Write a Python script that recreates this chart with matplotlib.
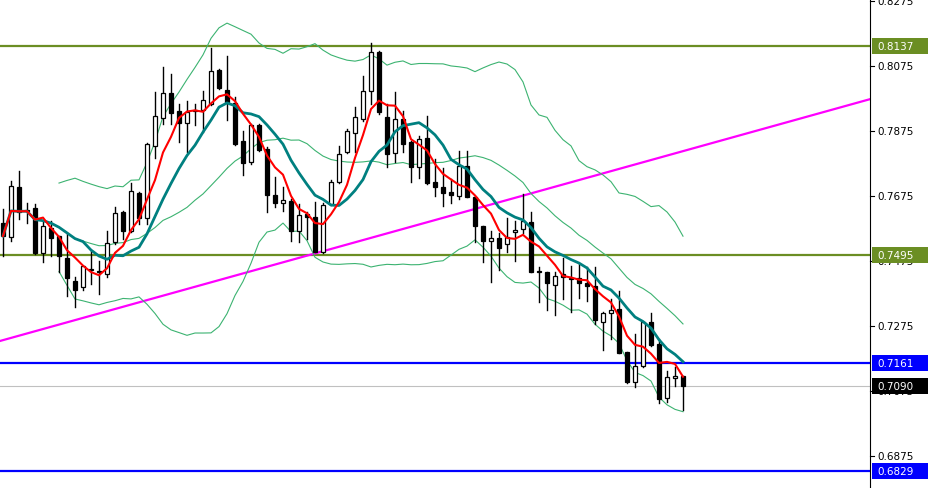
import matplotlib
matplotlib.use("Agg")
import matplotlib.pyplot as plt
from matplotlib.patches import Rectangle
import numpy as np
import pandas as pd

opens = [.7592,.7549,.7703,.7632,.7638,.7499,.7576,.7552,.7484,.7413,.7395,.7450,.7444,.7435,.7533,.7626,.7567,.7684,.7607,.7829,
         .7915,.7992,.7936,.7899,.7936,.7939,.7958,.8063,.8001,.7961,.7844,.7779,.7893,.7819,.7678,.7653,.7659,.7567,.7620,.7610,
         .7503,.7650,.7718,.7810,.7869,.7912,.7998,.8118,.7918,.7807,.7912,.7841,.7764,.7853,.7718,.7703,.7687,.7675,.7767,.7672,
         .7583,.7536,.7546,.7527,.7564,.7573,.7595,.7444,.7441,.7401,.7435,.7423,.7423,.7407,.7398,.7287,.7315,.7327,.7195,.7102,
         .7152,.7287,.7219,.7053,.7115,.7121]
highs = [.7635,.7721,.7752,.7653,.7650,.7595,.7598,.7552,.7558,.7426,.7459,.7506,.7475,.7567,.7641,.7629,.7715,.7687,.7838,.7995,
         .8072,.8050,.7958,.7967,.7958,.7998,.8130,.8066,.8106,.7979,.7875,.7896,.7896,.7826,.7733,.7703,.7666,.7650,.7626,.7656,
         .7653,.7724,.7829,.7881,.7949,.8044,.8146,.8121,.7958,.7995,.7936,.7844,.7860,.7921,.7789,.7761,.7727,.7813,.7813,.7675,
         .7583,.7567,.7561,.7607,.7598,.7681,.7626,.7456,.7441,.7441,.7484,.7459,.7466,.7456,.7456,.7318,.7358,.7383,.7195,.7250,
         .7287,.7315,.7235,.7136,.7149,.7121]
lows = [.7490,.7536,.7604,.7592,.7496,.7472,.7490,.7441,.7367,.7333,.7386,.7404,.7373,.7426,.7527,.7543,.7564,.7589,.7589,.7792,
        .7896,.7896,.7841,.7810,.7893,.7872,.7955,.8004,.7909,.7832,.7739,.7773,.7813,.7626,.7641,.7629,.7536,.7533,.7543,.7503,
        .7499,.7647,.7715,.7807,.7810,.7906,.7958,.7927,.7764,.7779,.7810,.7718,.7730,.7712,.7675,.7644,.7653,.7666,.7672,.7533,
        .7472,.7410,.7447,.7503,.7475,.7561,.7441,.7349,.7324,.7309,.7358,.7318,.7361,.7352,.7281,.7201,.7235,.7192,.7099,.7087,
        .7149,.7213,.7038,.7041,.7090,.7016]
closes = [.7552,.7706,.7626,.7629,.7499,.7583,.7546,.7490,.7423,.7386,.7459,.7447,.7441,.7530,.7623,.7567,.7690,.7607,.7835,.7921,
          .7992,.7930,.7899,.7933,.7939,.7970,.8059,.8007,.7964,.7835,.7776,.7893,.7816,.7678,.7653,.7663,.7567,.7616,.7610,.7503,
          .7647,.7718,.7804,.7875,.7918,.7998,.8118,.7933,.7804,.7912,.7835,.7764,.7850,.7715,.7703,.7684,.7678,.7767,.7672,.7583,
          .7536,.7546,.7515,.7549,.7570,.7598,.7441,.7441,.7407,.7429,.7426,.7419,.7407,.7398,.7293,.7315,.7324,.7192,.7102,.7152,
          .7287,.7216,.7050,.7118,.7121,.7090]

levels_green = [0.8137, 0.7495]
levels_blue = [0.7161, 0.6829]
last_price = 0.7090
trend_x = [-0.375, 108.375]
trend_y = [0.7229, 0.7973]
yticks = [0.8275, 0.8075, 0.7875, 0.7675, 0.7475, 0.7275, 0.7075, 0.6875]

fig = plt.figure(figsize=(9.3, 4.89), dpi=100)
ax = fig.add_axes([0, 0, 870/930, 1])
ymin, ymax = 0.67766, 0.82812
ax.set_xlim(-0.375, 108.375)
ax.set_ylim(ymin, ymax)

n = len(closes)
idx = np.arange(n)
c = pd.Series(closes)
ma5 = c.rolling(5, min_periods=1).mean()
ma10 = c.rolling(10, min_periods=1).mean()
mid = c.rolling(20, min_periods=8).mean()
sd = c.rolling(20, min_periods=8).std(ddof=0)

for lv in levels_green:
    ax.axhline(lv, color="#6b8e23", lw=1.6, zorder=1)
for lv in levels_blue:
    ax.axhline(lv, color="#0000ff", lw=1.6, zorder=1)
ax.axhline(last_price, color="#c0c0c0", lw=0.8, zorder=1)
ax.plot(trend_x, trend_y, color="#ff00ff", lw=1.6, zorder=2)

bc = "#3cb371"
ax.plot(idx, mid + 2*sd, color=bc, lw=0.8, zorder=2)
ax.plot(idx, mid, color=bc, lw=0.8, zorder=2)
ax.plot(idx, mid - 2*sd, color=bc, lw=0.8, zorder=2)

w = 0.62
for i in range(n):
    o, h, l, cl = opens[i], highs[i], lows[i], closes[i]
    ax.plot([i, i], [l, h], color="black", lw=1, zorder=3)
    lo, hi = min(o, cl), max(o, cl)
    fc = "white" if cl >= o else "black"
    ax.add_patch(Rectangle((i - w/2, lo), w, max(hi - lo, 0.00008), facecolor=fc,
                           edgecolor="black", lw=0.9, zorder=4))

ax.plot(idx, ma10, color="#008080", lw=2, zorder=5)
ax.plot(idx, ma5, color="#ff0000", lw=1.5, zorder=6)

ax.set_xticks([])
ax.set_yticks([])
for s in ["top", "left", "bottom"]:
    ax.spines[s].set_visible(False)
ax.spines["right"].set_color("black")

def yf(v):
    return (v - ymin) / (ymax - ymin)

for t in yticks:
    fig.text(877/930, yf(t), f"{t:.4f}", fontsize=7.5, va="center", ha="left", color="black", zorder=5)
    fig.add_artist(plt.Line2D([870/930, 874/930], [yf(t), yf(t)], color="black", lw=0.8))

def box(v, color):
    y0 = yf(v)
    fig.add_artist(Rectangle((872/930, y0 - 8/489), 56/930, 16/489, facecolor=color,
                             edgecolor="none", transform=fig.transFigure, zorder=10))
    fig.text(877/930, y0, f"{v:.4f}", fontsize=7.5, va="center", ha="left", color="white", zorder=11)

for lv in levels_green:
    box(lv, "#6b8e23")
for lv in levels_blue:
    box(lv, "#0000ff")
box(last_price, "black")

fig.savefig("out.png", dpi=100)
